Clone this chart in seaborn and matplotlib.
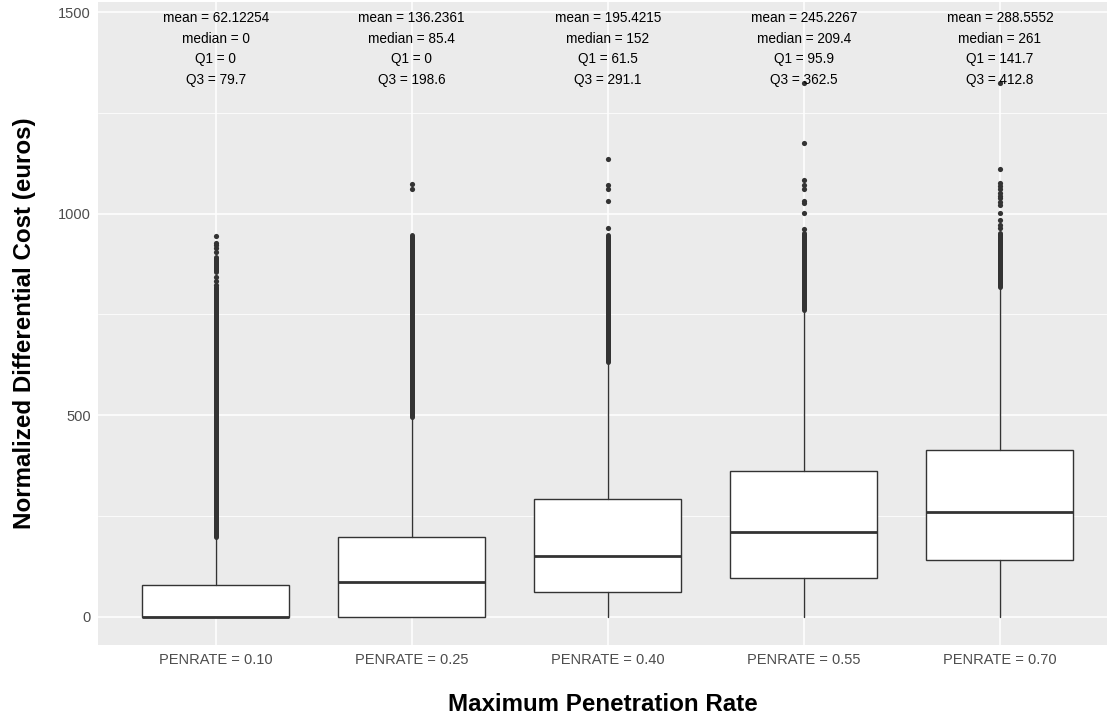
import matplotlib
matplotlib.use("Agg")
import matplotlib.pyplot as plt
from matplotlib.ticker import FixedLocator
import seaborn as sns
import pandas as pd
import numpy as np

# ---------------- data ----------------
categories = ["PENRATE = 0.10", "PENRATE = 0.25", "PENRATE = 0.40",
              "PENRATE = 0.55", "PENRATE = 0.70"]
mean_vals = [62.12254, 136.2361, 195.4215, 245.2267, 288.5552]
median_vals = [0, 85.4, 152, 209.4, 261]
q1_vals = [0, 0, 61.5, 95.9, 141.7]
q3_vals = [79.7, 198.6, 291.1, 362.5, 412.8]
whisker_lo = [0, 0, 0, 0, 0]
whisker_hi = [199, 496, 633, 761, 817]

# continuous runs of outliers (too dense to separate individual points)
dense_runs = [
    [(199, 819), (856, 893)],
    [(496, 947)],
    [(633, 947)],
    [(761, 951)],
    [(817, 952)],
]
# individually visible outliers
sparse_outliers = [
    [823, 834, 842, 906, 914, 921, 927, 945],
    [1061, 1073],
    [964, 1032, 1060, 1071, 1135],
    [961, 1001, 1027, 1031, 1060, 1071, 1084, 1176, 1325],
    [964, 972, 984, 1001, 1022, 1030, 1038, 1045, 1052, 1060, 1068, 1075, 1111, 1325],
]

y_ticks = [0, 500, 1000, 1500]
y_minor = [250, 750, 1250]
x_title = "Maximum Penetration Rate"
y_title = "Normalized Differential Cost (euros)"

# ---------------- style ----------------
sns.set_theme(style="darkgrid", rc={
    "axes.facecolor": "#EBEBEB",
    "grid.color": "white",
    "axes.edgecolor": "#EBEBEB",
})
plt.rcParams["font.family"] = ["Liberation Sans", "DejaVu Sans"]

ink = "#333333"
fig = plt.figure(figsize=(11.07, 7.15), dpi=100)
fig.patch.set_facecolor("white")
ax = fig.add_axes([98 / 1107, 70 / 715, 1 - 98 / 1107, 643 / 715])

pos = np.arange(len(categories))

# boxes via precomputed statistics
stats = []
for i in range(len(categories)):
    stats.append(dict(med=median_vals[i], q1=q1_vals[i], q3=q3_vals[i],
                      whislo=whisker_lo[i], whishi=whisker_hi[i], fliers=[]))
ax.bxp(stats, positions=pos, widths=0.75, patch_artist=True, showcaps=False,
       showfliers=False,
       boxprops=dict(facecolor="white", edgecolor=ink, linewidth=1.0),
       whiskerprops=dict(color=ink, linewidth=1.0),
       medianprops=dict(color=ink, linewidth=2.0, solid_capstyle="butt"),
       manage_ticks=False, zorder=3)

# dense runs of outliers
for i, runs in enumerate(dense_runs):
    for lo, hi in runs:
        lc = ax.vlines(pos[i], lo, hi, colors=ink, linewidth=3.6, zorder=4)
        lc.set_capstyle("round")

# sparse outliers via seaborn
rows = []
for i, vals in enumerate(sparse_outliers):
    for v in vals:
        rows.append({"pos": pos[i], "value": v})
df_out = pd.DataFrame(rows)
sns.scatterplot(data=df_out, x="pos", y="value", ax=ax, color=ink, s=14,
                linewidth=0, zorder=5, legend=False)


def fmt(v):
    return f"{v:.7g}"


# annotations
row_y = [0.975, 0.943, 0.911, 0.879]
trans = ax.get_xaxis_transform()
for i in range(len(categories)):
    lines = [f"mean = {fmt(mean_vals[i])}", f"median = {fmt(median_vals[i])}",
             f"Q1 = {fmt(q1_vals[i])}", f"Q3 = {fmt(q3_vals[i])}"]
    for ly, txt in zip(row_y, lines):
        ax.text(pos[i], ly, txt, transform=trans, ha="center", va="center",
                fontsize=9.8, color="black", zorder=6)

# axes
ax.set_xlim(-0.6, 4.546)
ax.set_ylim(-70, 1525)
ax.set_xticks(pos)
ax.set_xticklabels(categories)
ax.set_yticks(y_ticks)
ax.yaxis.set_minor_locator(FixedLocator(y_minor))
ax.grid(which="major", color="white", linewidth=1.1)
ax.grid(which="minor", axis="y", color="white", linewidth=0.55)
ax.set_axisbelow(True)
for s in ax.spines.values():
    s.set_visible(False)
ax.tick_params(axis="both", which="major", length=3, width=0.8, color=ink,
               labelsize=10.5, labelcolor="#4D4D4D", pad=2)
ax.tick_params(axis="y", which="minor", length=0)
ax.tick_params(axis="x", which="major", pad=3)

ax.set_xlabel(x_title, fontsize=17.4, fontweight="bold", color="black")
ax.set_ylabel(y_title, fontsize=17.4, fontweight="bold", color="black")
ax.xaxis.set_label_coords(0.5, -0.075)
ax.yaxis.set_label_coords(-0.061, 0.5)

fig.savefig("out.png", dpi=100)
